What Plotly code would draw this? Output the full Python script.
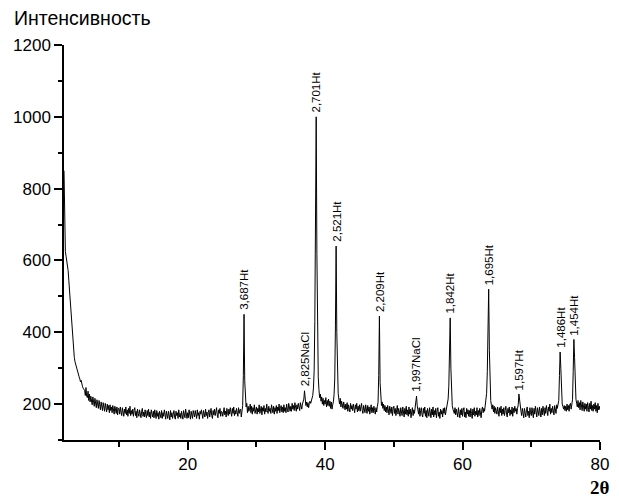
import numpy as np
import plotly.graph_objects as go

# 2-theta sampling: 2.0 .. 80.0 step 0.1
theta_start = 2.0
theta_step = 0.1

# Intensity, one row per degree (n.0 .. n.9)
intensity = [
    850, 640, 625, 612, 600, 590, 572, 545, 515, 480,   # 2
    450, 420, 395, 370, 345, 330, 318, 310, 300, 292,   # 3
    288, 282, 276, 270, 262, 266, 252, 248, 244, 238,   # 4
    238, 224, 246, 222, 218, 236, 210, 228, 206, 222,   # 5
    212, 198, 220, 204, 194, 216, 200, 190, 212, 198,   # 6
    188, 210, 194, 184, 206, 198, 182, 204, 190, 180,   # 7
    202, 186, 178, 200, 184, 196, 176, 198, 182, 192,   # 8
    176, 196, 182, 172, 194, 184, 174, 192, 170, 188,   # 9
    188, 172, 192, 178, 168, 190, 180, 166, 186, 174,   # 10
    192, 170, 184, 166, 188, 174, 194, 168, 182, 172,   # 11
    186, 166, 182, 190, 168, 180, 162, 186, 174, 166,   # 12
    184, 170, 162, 180, 188, 166, 178, 164, 184, 170,   # 13
    162, 182, 168, 186, 164, 178, 160, 184, 172, 164,   # 14
    180, 162, 184, 170, 160, 182, 166, 176, 158, 180,   # 15
    174, 162, 182, 160, 176, 166, 184, 164, 158, 180,   # 16
    168, 160, 180, 170, 156, 182, 164, 176, 160, 172,   # 17
    182, 164, 158, 180, 168, 176, 160, 184, 164, 174,   # 18
    160, 180, 168, 158, 182, 172, 162, 186, 168, 160,   # 19
    176, 162, 184, 168, 158, 180, 172, 160, 182, 168,   # 20
    164, 182, 170, 160, 184, 168, 176, 158, 180, 172,   # 21
    184, 168, 160, 182, 170, 164, 186, 168, 178, 160,   # 22
    176, 184, 164, 178, 188, 168, 160, 182, 170, 186,   # 23
    168, 178, 190, 170, 162, 184, 174, 188, 166, 180,   # 24
    178, 166, 186, 190, 170, 180, 164, 188, 176, 168,   # 25
    186, 172, 190, 178, 166, 188, 174, 192, 168, 182,   # 26
    172, 188, 178, 166, 190, 174, 184, 186, 164, 178,   # 27
    196, 280, 450, 265, 212, 192, 202, 176, 194, 180,   # 28
    186, 200, 176, 194, 172, 190, 180, 198, 174, 188,   # 29
    192, 172, 188, 178, 198, 174, 186, 194, 170, 190,   # 30
    180, 196, 172, 188, 178, 200, 182, 174, 194, 180,   # 31
    188, 174, 198, 182, 176, 194, 172, 190, 180, 196,   # 32
    174, 192, 182, 200, 176, 188, 196, 178, 192, 176,   # 33
    198, 180, 190, 176, 200, 186, 178, 202, 186, 180,   # 34
    194, 180, 202, 186, 196, 182, 204, 190, 180, 198,   # 35
    186, 202, 192, 182, 204, 194, 186, 200, 206, 214,   # 36
    237, 208, 196, 206, 192, 204, 190, 202, 208, 202,   # 37
    210, 216, 224, 245, 290, 430, 760, 1000, 620, 360,  # 38
    275, 240, 218, 228, 208, 220, 200, 216, 196, 210,   # 39
    200, 218, 192, 210, 196, 214, 194, 208, 188, 206,   # 40
    186, 198, 206, 226, 270, 420, 640, 400, 270, 230,   # 41
    214, 200, 216, 192, 208, 198, 188, 206, 194, 184,   # 42
    200, 186, 204, 180, 198, 190, 178, 202, 186, 196,   # 43
    182, 200, 188, 176, 198, 186, 202, 178, 194, 182,   # 44
    198, 180, 192, 202, 182, 174, 196, 186, 176, 198,   # 45
    190, 174, 196, 180, 192, 172, 186, 198, 176, 190,   # 46
    176, 194, 182, 172, 190, 178, 194, 204, 280, 445,   # 47
    260, 212, 196, 206, 188, 200, 182, 196, 178, 192,   # 48
    176, 196, 184, 170, 194, 180, 174, 192, 168, 188,   # 49
    194, 174, 188, 168, 186, 196, 172, 188, 178, 166,   # 50
    190, 176, 168, 192, 180, 164, 188, 172, 194, 170,   # 51
    184, 166, 192, 172, 186, 162, 178, 190, 168, 184,   # 52
    174, 190, 198, 222, 196, 180, 172, 190, 166, 182,   # 53
    190, 170, 164, 188, 174, 192, 166, 182, 162, 188,   # 54
    176, 166, 190, 178, 162, 186, 170, 192, 164, 182,   # 55
    170, 188, 162, 180, 190, 166, 178, 160, 186, 172,   # 56
    182, 164, 188, 174, 190, 170, 184, 190, 198, 214,   # 57
    250, 330, 440, 300, 220, 196, 186, 180, 174, 190,   # 58
    170, 186, 178, 164, 190, 176, 162, 184, 170, 188,   # 59
    166, 182, 190, 164, 178, 162, 188, 172, 184, 166,   # 60
    182, 164, 188, 174, 160, 186, 170, 190, 166, 180,   # 61
    170, 190, 164, 182, 168, 188, 176, 162, 184, 192,   # 62
    176, 188, 180, 194, 204, 230, 290, 420, 520, 350,   # 63
    240, 210, 196, 186, 198, 178, 194, 174, 190, 178,   # 64
    172, 192, 180, 166, 190, 176, 194, 168, 186, 172,   # 65
    190, 168, 182, 194, 172, 164, 188, 176, 192, 168,   # 66
    184, 172, 192, 166, 188, 176, 194, 180, 188, 172,   # 67
    188, 198, 228, 204, 190, 180, 168, 188, 176, 162,   # 68
    188, 170, 164, 184, 192, 168, 180, 162, 190, 176,   # 69
    168, 190, 178, 162, 188, 172, 194, 176, 164, 190,   # 70
    178, 168, 192, 174, 164, 188, 170, 194, 180, 168,   # 71
    190, 174, 196, 176, 168, 192, 180, 200, 172, 188,   # 72
    176, 194, 182, 170, 196, 186, 174, 198, 188, 200,   # 73
    210, 280, 345, 300, 230, 200, 194, 186, 196, 182,   # 74
    194, 180, 200, 184, 196, 180, 198, 202, 186, 200,   # 75
    212, 290, 380, 330, 250, 214, 202, 192, 210, 190,   # 76
    204, 184, 210, 192, 182, 206, 190, 180, 202, 186,   # 77
    200, 180, 204, 188, 178, 202, 186, 208, 182, 196,   # 78
    180, 200, 186, 204, 180, 196, 176, 202, 184, 194,   # 79
    184,                                                # 80
]

two_theta = np.round(theta_start + theta_step * np.arange(len(intensity)), 1)

# Peak labels (d-spacing, phase) and their 2-theta positions
peak_theta = [28.2, 37.0, 38.7, 41.6, 47.9, 53.3, 58.2, 63.8, 68.2, 74.2, 76.2]
peak_labels = ["3,687Ht", "2,825NaCl", "2,701Ht", "2,521Ht", "2,209Ht",
               "1,997NaCl", "1,842Ht", "1,695Ht", "1,597Ht", "1,486Ht", "1,454Ht"]

x_ticks = [20, 40, 60, 80]
y_ticks = [200, 400, 600, 800, 1000, 1200]

FONT = "Arial, 'Liberation Sans', sans-serif"

fig = go.Figure()
fig.add_trace(go.Scatter(
    x=two_theta, y=intensity, mode="lines",
    line=dict(color="black", width=1),
    showlegend=False, hoverinfo="skip",
))

annotations = []
for th, lab in zip(peak_theta, peak_labels):
    idx = int(np.argmin(np.abs(two_theta - th)))
    annotations.append(dict(
        x=two_theta[idx], y=intensity[idx], xref="x", yref="y",
        text=lab, textangle=-90, showarrow=False,
        xanchor="center", yanchor="bottom", yshift=2,
        font=dict(family=FONT, size=11.5, color="black"),
    ))

annotations.append(dict(
    text="Интенсивность", xref="paper", yref="paper",
    x=-0.097, y=1.068, xanchor="left", yanchor="middle", showarrow=False,
    font=dict(family=FONT, size=19.5, color="black"),
))
annotations.append(dict(
    text="<b>2θ</b>", xref="paper", yref="paper",
    x=1.0, y=-0.12, xanchor="center", yanchor="middle", showarrow=False,
    font=dict(family="'Times New Roman', 'Liberation Serif', serif", size=19, color="black"),
))

fig.update_layout(
    width=619, height=497,
    margin=dict(l=64, r=19, t=45, b=57, pad=0),
    paper_bgcolor="white", plot_bgcolor="white",
    font=dict(family=FONT, size=16, color="black"),
    annotations=annotations,
    xaxis=dict(
        range=[2, 80], tickvals=x_ticks, ticktext=[str(v) for v in x_ticks],
        automargin=False,
        showgrid=False, zeroline=False, showline=True, linecolor="black", linewidth=1.5,
        ticks="outside", ticklen=8, tickwidth=1.5, tickcolor="black",
        minor=dict(tickvals=[10, 30, 50, 70], ticks="outside", ticklen=5, tickwidth=1.5, tickcolor="black"),
        tickfont=dict(family=FONT, size=17),
    ),
    yaxis=dict(
        range=[100, 1200], tickvals=y_ticks, ticktext=[str(v) for v in y_ticks],
        automargin=False,
        showgrid=False, zeroline=False, showline=True, linecolor="black", linewidth=1.5,
        ticks="outside", ticklen=8, tickwidth=1.5, tickcolor="black",
        minor=dict(tickvals=[100, 300, 500, 700, 900, 1100], ticks="outside", ticklen=4, tickwidth=1.5, tickcolor="black"),
        tickfont=dict(family=FONT, size=17),
    ),
)

fig.write_html(
    "out.html",
    config={"displayModeBar": False},
    post_script="document.body.style.margin='0';document.body.style.padding='0';",
)
